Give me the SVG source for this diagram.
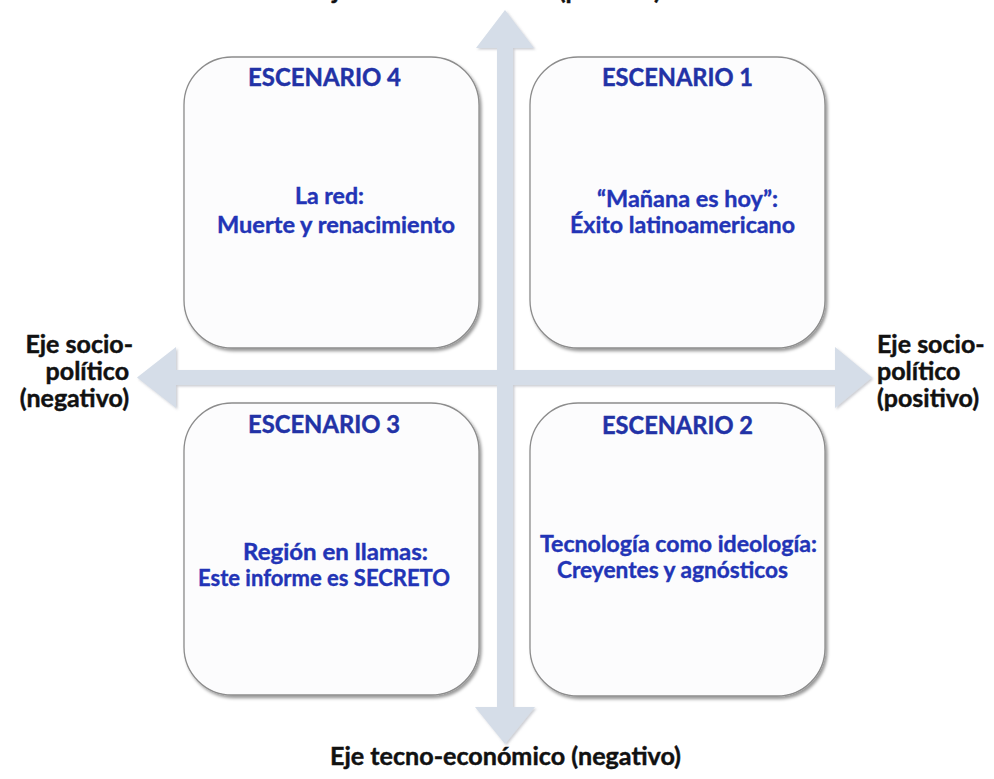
<svg xmlns="http://www.w3.org/2000/svg" width="994" height="779" viewBox="0 0 994 779">
  <defs>
    <filter id="shadow" x="-10%" y="-10%" width="120%" height="120%">
      <feDropShadow dx="2" dy="2.5" stdDeviation="1.8" flood-color="#000" flood-opacity="0.4"/>
    </filter>
    <filter id="ashadow" x="-10%" y="-10%" width="120%" height="120%">
      <feDropShadow dx="1.5" dy="1.5" stdDeviation="1.2" flood-color="#6a7080" flood-opacity="0.35"/>
    </filter>
  </defs>
  <style>
    .box { fill: #fcfcfd; stroke: #8c8c8c; stroke-width: 1.3; }
    .arrow { fill: #d5dde8; }
    .title { font-family: Lato, "Open Sans", "Liberation Sans", sans-serif; font-weight: bold; font-size: 25px; fill: #2232a6; stroke: #2232a6; stroke-width: 0.45; }
    .body { font-family: Lato, "Open Sans", "Liberation Sans", sans-serif; font-weight: bold; font-size: 23px; fill: #2234b6; stroke: #2234b6; stroke-width: 0.4; }
    .axis { font-family: Lato, "Open Sans", "Liberation Sans", sans-serif; font-weight: bold; font-size: 25px; fill: #111111; stroke: #111111; stroke-width: 0.45; }
  </style>
  <rect width="994" height="779" fill="#ffffff"/>

  <g id="connectors" filter="url(#ashadow)">
    <polygon class="arrow" points="505,10 534,48 513,48 513,370 835,370 835,347 872,377.5 835,408 835,385 513,385 513,707 535,707 505,744 475,707 497,707 497,385 176,385 176,408 137,377.5 176,347 176,370 497,370 497,48 476,48"/>
  </g>

  <g id="escenario4">
    <rect class="box" x="184" y="57" width="295" height="291" rx="48" ry="48" filter="url(#shadow)"/>
    <text class="title" x="248" y="86" textLength="153" lengthAdjust="spacingAndGlyphs">ESCENARIO 4</text>
    <text class="body" x="295" y="204" textLength="69" lengthAdjust="spacingAndGlyphs">La red:</text>
    <text class="body" x="217" y="233" textLength="238" lengthAdjust="spacingAndGlyphs">Muerte y renacimiento</text>
  </g>

  <g id="escenario1">
    <rect class="box" x="530" y="57" width="295" height="291" rx="48" ry="48" filter="url(#shadow)"/>
    <text class="title" x="602" y="86" textLength="151" lengthAdjust="spacingAndGlyphs">ESCENARIO 1</text>
    <text class="body" x="597" y="207" textLength="181" lengthAdjust="spacingAndGlyphs">“Mañana es hoy”:</text>
    <text class="body" x="570" y="233" textLength="225" lengthAdjust="spacingAndGlyphs">Éxito latinoamericano</text>
  </g>

  <g id="escenario3">
    <rect class="box" x="184" y="403" width="295" height="292" rx="48" ry="48" filter="url(#shadow)"/>
    <text class="title" x="248" y="433" textLength="152" lengthAdjust="spacingAndGlyphs">ESCENARIO 3</text>
    <text class="body" x="243" y="560" textLength="185" lengthAdjust="spacingAndGlyphs">Región en llamas:</text>
    <text class="body" x="198" y="586" textLength="252" lengthAdjust="spacingAndGlyphs">Este informe es SECRETO</text>
  </g>

  <g id="escenario2">
    <rect class="box" x="530" y="403" width="295" height="293" rx="48" ry="48" filter="url(#shadow)"/>
    <text class="title" x="602" y="434" textLength="151" lengthAdjust="spacingAndGlyphs">ESCENARIO 2</text>
    <text class="body" x="540" y="552" textLength="277" lengthAdjust="spacingAndGlyphs">Tecnología como ideología:</text>
    <text class="body" x="557" y="578" textLength="231" lengthAdjust="spacingAndGlyphs">Creyentes y agnósticos</text>
  </g>

  <g id="label-left">
    <text class="axis" x="133" y="353" text-anchor="end">Eje socio-</text>
    <text class="axis" x="129" y="380" text-anchor="end">político</text>
    <text class="axis" x="129" y="407" text-anchor="end">(negativo)</text>
  </g>

  <g id="label-right">
    <text class="axis" x="877" y="353">Eje socio-</text>
    <text class="axis" x="877" y="380">político</text>
    <text class="axis" x="877" y="407">(positivo)</text>
  </g>

  <g id="label-bottom">
    <text class="axis" x="330" y="765" textLength="351" lengthAdjust="spacingAndGlyphs">Eje tecno-económico (negativo)</text>
  </g>

  <g id="label-top">
    <text class="axis" x="318" y="-1" textLength="343" lengthAdjust="spacingAndGlyphs">Eje tecno-económico (positivo)</text>
  </g>
</svg>
